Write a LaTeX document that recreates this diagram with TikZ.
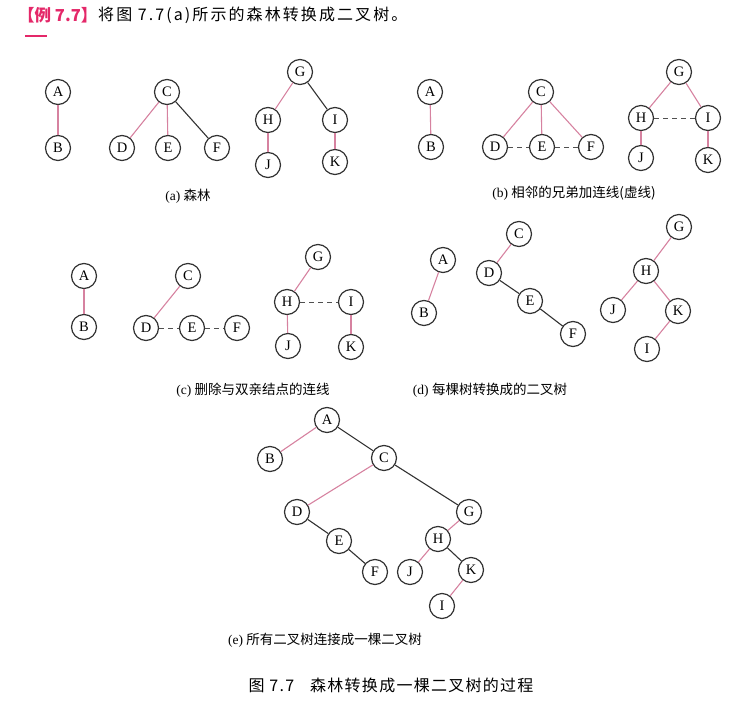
\documentclass[tikz,border=0pt]{standalone}
\usepackage{fontspec}
\setmainfont{Liberation Serif}
\newfontfamily\cjk{Noto Sans CJK SC}
\newfontfamily\cjkwide[LetterSpace=8]{Noto Sans CJK SC}
\newfontfamily\cjkhead[LetterSpace=13]{Noto Sans CJK SC}
\usetikzlibrary{shapes,arrows}
\definecolor{edgepink}{RGB}{214,130,160}
\definecolor{edgegray}{RGB}{50,50,50}
\definecolor{dashgray}{RGB}{80,80,80}
\definecolor{headred}{RGB}{228,40,105}
\tikzstyle{vertex} = [circle, draw=edgegray, line width=1.2pt, minimum size=25pt, inner sep=0pt, font=\fontsize{14.5}{14.5}\selectfont]
\tikzstyle{pline} = [draw=edgepink, line width=1.1pt]
\tikzstyle{bline} = [draw=edgegray, line width=1.1pt]
\tikzstyle{dline} = [draw=dashgray, line width=0.9pt, dash pattern=on 5pt off 4pt]
\tikzstyle{caption} = [font=\fontsize{13.5}{15}\selectfont]

\begin{document}
\begin{tikzpicture}[x=1pt, y=-1pt]
  \useasboundingbox (0,0) rectangle (756,726);
  % Heading
  \node [anchor=west, text=headred, font=\cjk\bfseries\fontsize{16.5}{17}\selectfont, inner sep=0pt] (head) at (18,15) {【例 7.7】};
  \node [anchor=west, font=\cjkhead\fontsize{16}{17}\selectfont, inner sep=0pt] (task) at (98,15) {将图 7.7(a)所示的森林转换成二叉树。};
  \coordinate (barl) at (25,36);
  \coordinate (barr) at (47,36);
  \path [draw=headred, line width=2pt] (barl) -- (barr);
  % (a) forest
  \node [vertex] (aA) at (58,92) {A};
  \node [vertex] (aB) at (58,148) {B};
  \node [vertex] (aC) at (167,92) {C};
  \node [vertex] (aD) at (122,148) {D};
  \node [vertex] (aE) at (168,148) {E};
  \node [vertex] (aF) at (217,148) {F};
  \node [vertex] (aG) at (300,72) {G};
  \node [vertex] (aH) at (268,120) {H};
  \node [vertex] (aI) at (335,120) {I};
  \node [vertex] (aJ) at (268,165) {J};
  \node [vertex] (aK) at (335,162) {K};
  \node [caption] (capa) at (188,196) {(a) {\cjk 森林}};
  \path [pline] (aA) -- (aB);
  \path [pline] (aC) -- (aD);
  \path [pline] (aC) -- (aE);
  \path [bline] (aC) -- (aF);
  \path [pline] (aG) -- (aH);
  \path [bline] (aG) -- (aI);
  \path [pline] (aH) -- (aJ);
  \path [pline] (aI) -- (aK);
  % (b) sibling links
  \node [vertex] (bA) at (430,92) {A};
  \node [vertex] (bB) at (431,147) {B};
  \node [vertex] (bC) at (541,92) {C};
  \node [vertex] (bD) at (495,147) {D};
  \node [vertex] (bE) at (542,147) {E};
  \node [vertex] (bF) at (591,147) {F};
  \node [vertex] (bG) at (679,72) {G};
  \node [vertex] (bH) at (641,118) {H};
  \node [vertex] (bI) at (708,118) {I};
  \node [vertex] (bJ) at (641,158) {J};
  \node [vertex] (bK) at (708,160) {K};
  \node [caption] (capb) at (574,193) {(b) {\cjk 相邻的兄弟加连线(虚线)}};
  \path [pline] (bA) -- (bB);
  \path [pline] (bC) -- (bD);
  \path [pline] (bC) -- (bE);
  \path [pline] (bC) -- (bF);
  \path [dline] (bD) -- (bE);
  \path [dline] (bE) -- (bF);
  \path [pline] (bG) -- (bH);
  \path [pline] (bG) -- (bI);
  \path [dline] (bH) -- (bI);
  \path [pline] (bH) -- (bJ);
  \path [pline] (bI) -- (bK);
  % (c) parent links removed
  \node [vertex] (cA) at (84,276) {A};
  \node [vertex] (cB) at (84,327) {B};
  \node [vertex] (cC) at (188,276) {C};
  \node [vertex] (cD) at (146,328) {D};
  \node [vertex] (cE) at (192,328) {E};
  \node [vertex] (cF) at (237,328) {F};
  \node [vertex] (cG) at (318,257) {G};
  \node [vertex] (cH) at (287,302) {H};
  \node [vertex] (cI) at (351,302) {I};
  \node [vertex] (cJ) at (288,346) {J};
  \node [vertex] (cK) at (351,347) {K};
  \node [caption] (capc) at (253,390) {(c) {\cjk 删除与双亲结点的连线}};
  \path [pline] (cA) -- (cB);
  \path [pline] (cC) -- (cD);
  \path [dline] (cD) -- (cE);
  \path [dline] (cE) -- (cF);
  \path [pline] (cG) -- (cH);
  \path [dline] (cH) -- (cI);
  \path [pline] (cH) -- (cJ);
  \path [pline] (cI) -- (cK);
  % (d) binary trees
  \node [vertex] (dA) at (443,260) {A};
  \node [vertex] (dB) at (424,313) {B};
  \node [vertex] (dC) at (519,234) {C};
  \node [vertex] (dD) at (489,273) {D};
  \node [vertex] (dE) at (530,301) {E};
  \node [vertex] (dF) at (573,334) {F};
  \node [vertex] (dG) at (679,227) {G};
  \node [vertex] (dH) at (646,271) {H};
  \node [vertex] (dJ) at (613,310) {J};
  \node [vertex] (dK) at (678,311) {K};
  \node [vertex] (dI) at (647,349) {I};
  \node [caption] (capd) at (490,390) {(d) {\cjk 每棵树转换成的二叉树}};
  \path [pline] (dA) -- (dB);
  \path [pline] (dC) -- (dD);
  \path [bline] (dD) -- (dE);
  \path [bline] (dE) -- (dF);
  \path [pline] (dG) -- (dH);
  \path [pline] (dH) -- (dJ);
  \path [pline] (dH) -- (dK);
  \path [pline] (dK) -- (dI);
  % (e) one binary tree
  \node [vertex] (eA) at (327,420) {A};
  \node [vertex] (eB) at (270,459) {B};
  \node [vertex] (eC) at (384,458) {C};
  \node [vertex] (eD) at (297,512) {D};
  \node [vertex] (eE) at (339,541) {E};
  \node [vertex] (eF) at (375,572) {F};
  \node [vertex] (eG) at (469,512) {G};
  \node [vertex] (eH) at (438,539) {H};
  \node [vertex] (eJ) at (410,572) {J};
  \node [vertex] (eK) at (471,570) {K};
  \node [vertex] (eI) at (442,606) {I};
  \node [caption] (cape) at (325,640) {(e) {\cjk 所有二叉树连接成一棵二叉树}};
  \path [pline] (eA) -- (eB);
  \path [bline] (eA) -- (eC);
  \path [pline] (eC) -- (eD);
  \path [bline] (eC) -- (eG);
  \path [bline] (eD) -- (eE);
  \path [bline] (eE) -- (eF);
  \path [pline] (eG) -- (eH);
  \path [pline] (eH) -- (eJ);
  \path [bline] (eH) -- (eK);
  \path [pline] (eK) -- (eI);
  % figure caption
  \node [font=\cjkwide\fontsize{16}{18}\selectfont] (figcap) at (391,685) {图 7.7\quad 森林转换成一棵二叉树的过程};
\end{tikzpicture}
\end{document}
